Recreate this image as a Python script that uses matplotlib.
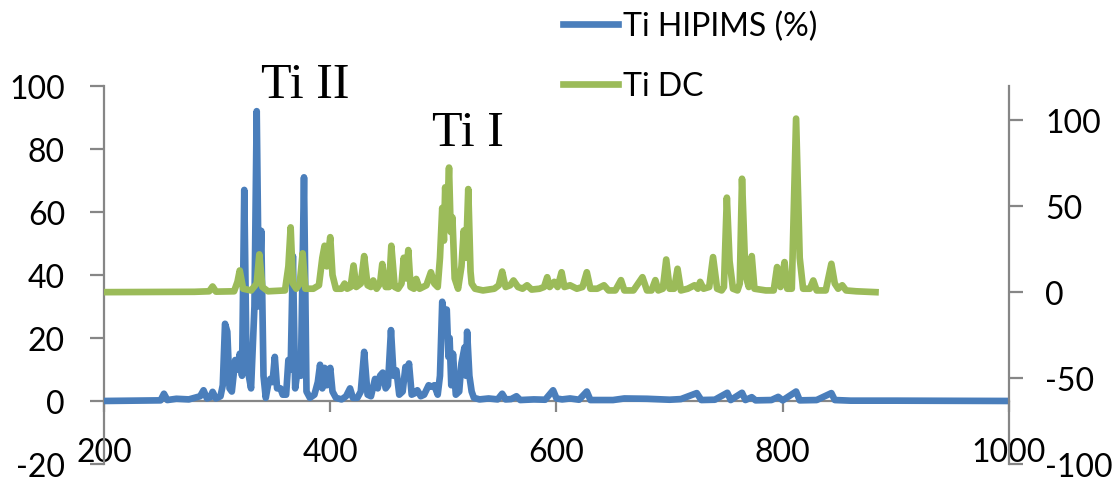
import matplotlib
matplotlib.use("Agg")
import matplotlib.pyplot as plt

plt.rcParams['font.family'] = ['Lato', 'DejaVu Sans']
plt.rcParams['axes.unicode_minus'] = False

# Ti HIPIMS (%) - left axis
hipims_wl = [200, 250, 253, 256, 264, 275, 285, 288, 291, 294, 296, 299, 303, 305, 307, 309, 311, 313,
             316, 318, 320, 322, 324, 326, 328, 330, 333, 335, 337, 339, 341, 343, 345, 347, 349, 351,
             353, 356, 358, 361, 363, 365, 367, 369, 372, 374, 376.8, 379, 382, 386, 389, 391, 393, 395,
             397, 400, 402, 405, 410, 414, 417.5, 420, 424, 427, 430, 433, 436, 439.6, 442, 444, 446.4,
             449, 451, 453.7, 456, 458.5, 461, 464, 466.5, 468, 469.6, 472, 475, 477, 480, 483, 487, 490,
             492, 495, 497, 499, 501, 503, 504.5, 505.5, 507, 508.5, 511, 514, 516, 518.7, 520, 521, 523,
             525, 527, 532, 540, 548, 552, 555, 560, 564.6, 568, 580, 590, 597, 600, 605, 612, 620, 626.8,
             630, 650, 660, 680, 700, 710, 724, 728, 740, 751, 754, 764, 767, 772.6, 776, 790, 796, 800,
             811.8, 815, 830, 843, 846, 860, 900, 1000]
hipims_val = [0, 0.2, 2.3, 0.3, 0.7, 0.5, 1.5, 3.4, 0.8, 1.2, 2.9, 0.8, 1.5, 5, 24.5, 22, 4, 3,
              13, 10, 15, 8, 67, 12, 8, 4, 30, 92, 30, 54, 8, 1, 5, 7, 6, 14,
              4, 4, 2, 2, 13, 10, 46, 4, 12, 8, 71, 3, 1, 2, 6, 11.5, 4, 10.5,
              5, 10.5, 3, 1, 0.5, 1.5, 4, 1, 1, 3, 15.6, 2, 1.5, 7, 4, 8, 9,
              4, 5, 22.5, 8, 9.7, 2, 3, 10.8, 8, 11.9, 2, 2.5, 3.4, 1.5, 2, 5, 4.5,
              5, 2, 8, 31.5, 26, 29, 14, 20, 5, 15, 2, 3, 12, 17, 8, 22, 8,
              3, 1, 0.5, 0.8, 0.5, 2.3, 0.5, 0.6, 1.5, 0.3, 0.5, 0.4, 3.4, 0.8, 0.5, 0.8, 0.4, 3,
              0.3, 0.3, 0.8, 0.7, 0.4, 0.6, 2.5, 0.3, 0.4, 2.6, 0.3, 2.6, 0.3, 1.2, 0.2, 0.3, 1.3, 0.2,
              3, 0.2, 0.3, 2.5, 0.3, 0.1, 0.1, 0]

# Ti DC - right axis
dc_wl = [200, 280, 293, 296, 299, 315, 318, 320, 323, 330, 335, 337.3, 340, 345, 360, 363, 365, 367,
         370, 373, 375.6, 378, 385, 390, 393, 395, 397, 400, 402, 405, 410, 412.7, 415, 418, 420.6,
         423, 427, 430, 433, 436, 438, 441, 444, 446, 449, 452, 454, 457, 460, 463, 465, 467, 469,
         471, 474, 476, 479, 485, 489, 492, 495, 497, 499, 500.5, 501.6, 503, 505, 506.5, 508, 510,
         513, 516, 518, 520, 522, 524, 525, 528, 535, 545, 549, 552, 555, 559, 562, 566, 570, 574,
         578, 585, 589, 591.8, 594, 598, 601, 604.5, 607, 612, 618, 623, 626.8, 630, 636, 642, 646,
         652, 657, 660, 668, 676, 680, 684, 687.4, 690, 694, 697, 700, 704, 707, 710, 716, 722, 725,
         727, 730, 735, 738.4, 742, 746, 748, 750.6, 753, 756, 760, 762, 764, 767, 770, 772.6, 775,
         785, 792, 795, 798, 801.6, 804, 808, 811.8, 815, 818, 824, 827, 830, 838, 843, 846, 849,
         852.6, 856, 865, 882]
dc_val = [0, 0.2, 0.5, 3.3, 0.3, 0.5, 6, 12.6, 2, 1, 5, 22, 3, 0.5, 1, 15, 37.7, 5,
          2, 5, 22.6, 2, 2, 4, 20, 27, 15, 32, 10, 2, 2, 5, 2, 3, 15.5,
          3, 5, 21, 4, 3, 6.8, 2, 5, 16.4, 3, 3, 27, 3, 2, 5, 20, 8, 24.5,
          3, 2, 7.7, 2, 4, 11.6, 5, 3, 20, 49, 30, 61, 40, 72.5, 35, 43.5, 8,
          2, 15, 35.8, 20, 60, 12, 5, 2, 1, 2, 4, 12, 3, 4, 6.8, 3, 2, 4,
          1.5, 2, 3, 8.7, 3, 6, 3, 11.6, 3, 4, 2, 3, 11.6, 2, 2, 4, 1,
          1, 7, 1, 1, 8.7, 1, 1, 7, 1, 2, 19, 2, 2, 13.6, 1, 2, 4, 2,
          6, 2, 3, 20.4, 2, 1, 3, 55, 18, 2, 1, 5, 66, 10, 3, 21, 2,
          1, 1, 14.6, 3, 17.5, 2, 2, 101, 20, 2, 2, 6.8, 1, 1, 16.5, 5, 2,
          4, 1, 0.5, 0]

blue = '#4A7EBB'
green = '#9BBB59'
grey = '#868686'
fs = 23

fig = plt.figure(figsize=(11.17, 4.81), dpi=100)
ax = fig.add_axes([0.0931, 0.0333, 0.8102, 0.7859])
ax2 = ax.twinx()

l1, = ax.plot(hipims_wl, hipims_val, color=blue, lw=4.8, zorder=3, label='Ti HIPIMS (%)')
l2, = ax2.plot(dc_wl, dc_val, color=green, lw=4.8, label='Ti DC')

ax.set_xlim(200, 1000)
ax.set_ylim(-20, 100)
ax2.set_ylim(-100, 120)
ax.set_xticks([200, 400, 600, 800, 1000])
ax.set_yticks(range(-20, 101, 20))
ax2.set_yticks([-100, -50, 0, 50, 100])

for s in ['top', 'right']:
    ax.spines[s].set_visible(False)
for s in ['top', 'left', 'bottom']:
    ax2.spines[s].set_visible(False)
ax.spines['bottom'].set_position(('data', 0))
for sp in [ax.spines['left'], ax.spines['bottom'], ax2.spines['right']]:
    sp.set_color(grey)
    sp.set_linewidth(1.6)

ax.tick_params(axis='x', direction='out', length=8, width=1.6, color=grey, labelsize=fs, pad=18)
ax.tick_params(axis='y', direction='out', length=10, width=1.6, color=grey, labelsize=fs, pad=18)
ax2.tick_params(axis='y', direction='out', length=10, width=1.6, color=grey, labelsize=fs, pad=16)

ax.text(377.7, 100.3, 'Ti II', family='Liberation Serif', fontsize=36, ha='center', va='center')
ax.text(521.8, 85, 'Ti I', family='Liberation Serif', fontsize=36, ha='center', va='center')

fig.legend(handles=[l1, l2], loc='upper left', bbox_to_anchor=(563 / 1117, 0.976), frameon=False,
           fontsize=fs, handlelength=1.72, handletextpad=0.15, labelspacing=0.95,
           borderpad=0, borderaxespad=0)

fig.savefig('out.png', dpi=100)
